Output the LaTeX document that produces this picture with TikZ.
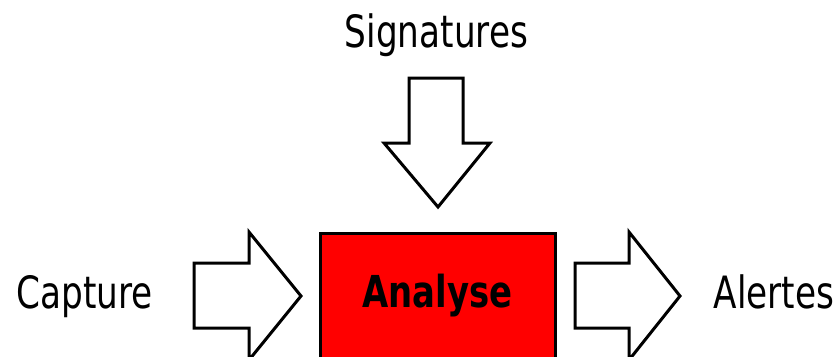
\documentclass[tikz,border=0pt]{standalone}
\usepackage{fontspec}
\setmainfont{DejaVu Sans}[FakeStretch=0.77]
\begin{document}
\begin{tikzpicture}[x=1pt,y=-1pt,
  fatarrow/.style={draw=black,line width=3pt,fill=white,line join=miter},
  lbl/.style={font=\fontsize{44.5}{50}\selectfont,inner sep=0pt,anchor=base},
  box/.style={draw=black,line width=3pt,fill=red}]
\useasboundingbox (0,0) rectangle (840,356);
\begin{scope}
\clip (0,0) rectangle (840,356);
% red box
\node[box,minimum width=235pt,minimum height=140pt,anchor=north west,inner sep=0pt] (ana) at (319,232) {};
\node[lbl,font=\fontsize{44}{50}\selectfont\bfseries] (anat) at (437.5,307) {Analyse};
% left arrow
\draw[fatarrow] (194,263) -- (249,263) -- (249,232) -- (301,296) -- (249,360) -- (249,328) -- (194,328) -- cycle;
% right arrow
\draw[fatarrow] (575,263) -- (629,263) -- (629,232) -- (680,296) -- (629,360) -- (629,328) -- (575,328) -- cycle;
% top arrow
\draw[fatarrow] (409,78) -- (463,78) -- (463,143) -- (490,143) -- (438,207) -- (384,143) -- (409,143) -- cycle;
\end{scope}
\node[lbl] (cap) at (84.5,308) {Capture};
\node[lbl] (ale) at (774,308) {Alertes};
\node[lbl] (sig) at (436.5,47) {Signatures};
\end{tikzpicture}
\end{document}
